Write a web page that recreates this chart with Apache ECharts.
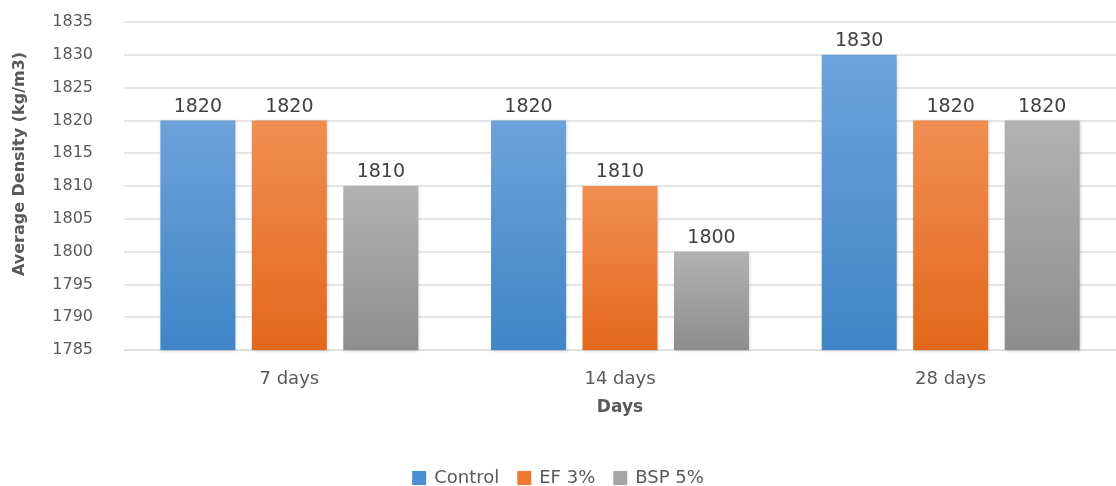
<!DOCTYPE html>
<html>
<head>
<meta charset="utf-8">
<style>
  html, body { margin: 0; padding: 0; background: #ffffff; }
  #chart { width: 1116px; height: 486px; }
</style>
<script src="https://cdn.jsdelivr.net/npm/echarts@6/dist/echarts.min.js"></script>
</head>
<body>
<div id="chart"></div>
<script>
// Average density by curing age
const categories = ['7 days', '14 days', '28 days'];
const seriesNames = ['Control', 'EF 3%', 'BSP 5%'];
const controlValues = [1820, 1820, 1830];
const ef3Values = [1820, 1810, 1820];
const bsp5Values = [1810, 1800, 1820];
const yMin = 1785;
const yMax = 1835;
const yStep = 5;

// top / bottom shades of each series' gradient fill, plus legend swatch colour
const palette = [
  { top: '#6da2da', bottom: '#3f85c7', flat: '#4a8fd4' },
  { top: '#f08e52', bottom: '#e3681b', flat: '#ee7a30' },
  { top: '#b2b2b2', bottom: '#8d8d8d', flat: '#a5a5a5' }
];

const FONT = '"DejaVu Sans", "Open Sans", sans-serif';

function gradient(c) {
  return new echarts.graphic.LinearGradient(0, 0, 0, 1, [
    { offset: 0, color: c.top },
    { offset: 1, color: c.bottom }
  ]);
}

const valueSets = [controlValues, ef3Values, bsp5Values];

const chart = echarts.init(document.getElementById('chart'), null, { renderer: 'canvas' });

chart.setOption({
  animation: false,
  backgroundColor: '#ffffff',
  textStyle: { fontFamily: FONT },
  grid: { left: 124, top: 22, width: 998, height: 328, containLabel: false },
  legend: {
    top: 464,
    left: 'center',
    itemWidth: 14,
    itemHeight: 14,
    itemGap: 18,
    icon: 'rect',
    textStyle: { color: '#595959', fontSize: 18, fontFamily: FONT, padding: [0, 0, 0, 3] },
    data: seriesNames.map((n, i) => ({ name: n, itemStyle: { color: palette[i].flat } }))
  },
  xAxis: {
    type: 'category',
    data: categories,
    name: 'Days',
    nameLocation: 'middle',
    nameGap: 49,
    nameTextStyle: { color: '#595959', fontSize: 17, fontWeight: 'bold', fontFamily: FONT },
    axisLine: { show: true, lineStyle: { color: '#d9d9d9' } },
    axisTick: { show: false },
    axisLabel: { color: '#595959', fontSize: 18, margin: 20, fontFamily: FONT }
  },
  yAxis: {
    type: 'value',
    min: yMin,
    max: yMax,
    interval: yStep,
    axisLine: { show: false },
    axisTick: { show: false },
    axisLabel: {
      color: '#595959',
      fontSize: 16,
      margin: 31,
      fontFamily: FONT,
      formatter: (v) => String(v)
    },
    splitLine: { lineStyle: { color: '#dcdcdc', width: 1.5 } }
  },
  graphic: [{
    type: 'text',
    x: 20,
    y: 164,
    rotation: Math.PI / 2,
    style: {
      text: 'Average Density (kg/m3)',
      fill: '#595959',
      font: 'bold 16px ' + FONT,
      textAlign: 'center',
      textVerticalAlign: 'middle'
    }
  }],
  series: seriesNames.map((name, i) => ({
    name: name,
    type: 'bar',
    data: valueSets[i],
    barGap: '22%',
    barCategoryGap: '22%',
    itemStyle: {
      color: gradient(palette[i]),
      shadowBlur: 3,
      shadowColor: 'rgba(0,0,0,0.18)',
      shadowOffsetX: 1,
      shadowOffsetY: 1
    },
    label: {
      show: true,
      position: 'top',
      distance: 4,
      color: '#404040',
      fontSize: 19,
      fontFamily: FONT
    }
  }))
});
</script>
</body>
</html>
